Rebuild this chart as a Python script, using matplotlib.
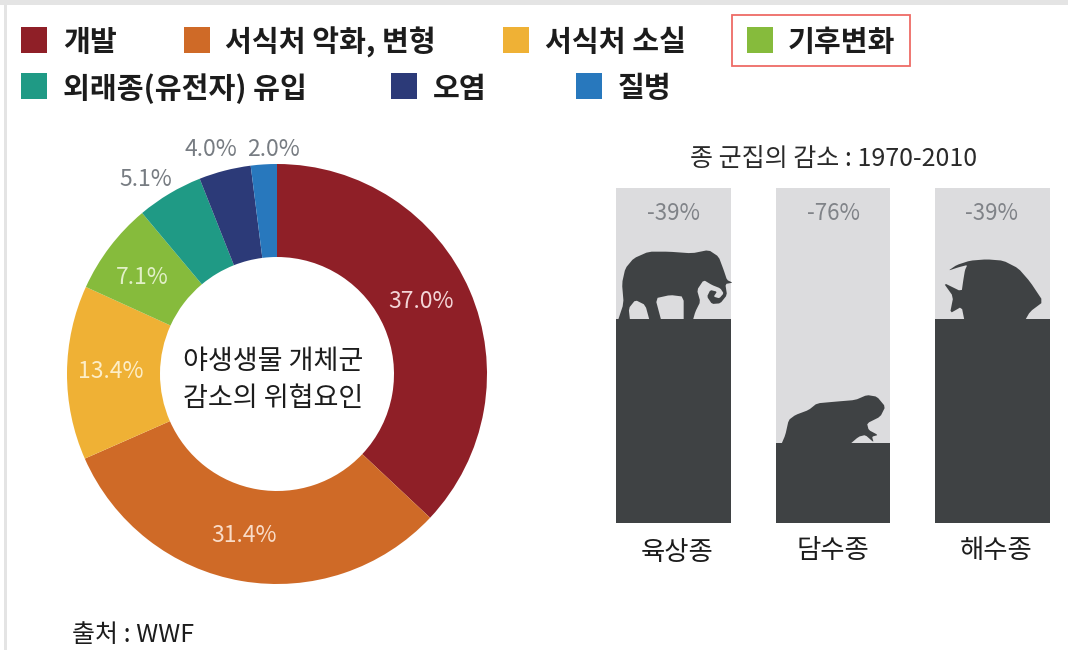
import matplotlib
matplotlib.use("Agg")
import matplotlib.pyplot as plt
from matplotlib.patches import Rectangle, Polygon

plt.rcParams['font.family'] = ['Noto Sans CJK KR', 'DejaVu Sans']

W, H = 1068, 650
threat_names = ['개발', '서식처 악화, 변형', '서식처 소실', '기후변화', '외래종(유전자) 유입', '오염', '질병']
threat_values = [37.0, 31.4, 13.4, 7.1, 5.1, 4.0, 2.0]
threat_colors = ['#8f1f27', '#cf6a27', '#efb135', '#86bb3c', '#1f9a85', '#2c3a78', '#2878bd']
species = ['육상종', '담수종', '해수종']
remaining = [61, 24, 61]
decline_labels = ['-39%', '-76%', '-39%']

fig = plt.figure(figsize=(W / 100, H / 100), dpi=100, facecolor='white')

def axes_px(x0, y0, x1, y1, **kw):
    return fig.add_axes([x0 / W, 1 - y1 / H, (x1 - x0) / W, (y1 - y0) / H], **kw)

# donut
cx, cy, r = 277, 374, 210
pie_ax = axes_px(cx - r, cy - r, cx + r, cy + r)
pie_ax.pie(threat_values, colors=threat_colors, startangle=90, counterclock=False, radius=1,
           wedgeprops=dict(width=93 / 210, linewidth=0))
pie_ax.set_xlim(-1, 1); pie_ax.set_ylim(-1, 1)
pie_ax.axis('off')

# bars
bar_ax = axes_px(616, 188, 1050, 523)
xs = range(len(species))
bar_ax.bar(xs, [100] * 3, width=0.72, color='#dcdcde', linewidth=0)
bar_ax.bar(xs, remaining, width=0.72, color='#3f4244', linewidth=0)
bar_ax.set_xlim(-0.36, 2.36); bar_ax.set_ylim(0, 100)
bar_ax.axis('off')

# overlay in pixel coordinates
ov = fig.add_axes([0, 0, 1, 1], facecolor='none')
ov.set_xlim(0, W); ov.set_ylim(H, 0); ov.axis('off')

# frame edges of the source screenshot
ov.add_patch(Rectangle((0, 0), W, 5, color='#e4e4e4', lw=0))
ov.add_patch(Rectangle((4, 0), 3, H, color='#e4e4e4', lw=0))

# legend
legend_pos = [(21, 40, 63), (184, 40, 225), (503, 40, 545), (747, 40, 788),
              (21, 86, 63), (391, 86, 433), (576, 86, 618)]
for name, color, (px, py, tx) in zip(threat_names, threat_colors, legend_pos):
    ov.add_patch(Rectangle((px, py - 13), 26, 26, color=color, lw=0))
    ov.text(tx, py + 2.5, name, fontsize=21, fontweight='black', color='#1c1c1c', ha='left', va='center')
ov.add_patch(Rectangle((732, 15), 178, 51, fill=False, edgecolor='#ee6b66', lw=1.3))

# donut labels
label_pos = [(421, 301), (244, 536), (111, 372), (142, 278), (146, 180), (211, 150), (273, 150)]
label_cols = ['#f3d5d7', '#f9dcc8', '#fdeec8', '#e2f0c8', '#777c82', '#777c82', '#777c82']
for v, (x, y), c in zip(threat_values, label_pos, label_cols):
    ov.text(x, y, f'{v:.1f}%', fontsize=16.5, color=c, ha='center', va='center')
ov.text(273, 380, '야생생물 개체군\n감소의 위협요인', fontsize=19.5, fontweight='medium', color='#1c1c1c',
        ha='center', va='center', linespacing=1.5)

# right panel text
ov.text(834, 159, '종 군집의 감소 : 1970-2010', fontsize=18, color='#2a2a2a', ha='center', va='center')
for x, t in zip([674, 833, 992], decline_labels):
    ov.text(x, 214, t, fontsize=16, color='#808388', ha='center', va='center')
for x, y, t in zip([677, 833, 996], [552, 550, 550], species):
    ov.text(x, y, t, fontsize=19, color='#1c1c1c', ha='center', va='center')
ov.text(72, 635, '출처 : WWF', fontsize=18, color='#1c1c1c', ha='left', va='center')

# silhouettes: outlines in crop coordinates, corner-cut for smoothness
def smooth(pts, n=1):
    for _ in range(n):
        out = []
        for i, (x0, y0) in enumerate(pts):
            x1, y1 = pts[(i + 1) % len(pts)]
            out += [(0.85 * x0 + 0.15 * x1, 0.85 * y0 + 0.15 * y1),
                    (0.15 * x0 + 0.85 * x1, 0.15 * y0 + 0.85 * y1)]
        pts = out
    return pts

def sil(x0, y0, pts):
    ov.add_patch(Polygon([(x0 + x / 3, y0 + y / 3) for x, y in smooth(pts)], closed=True,
                         color='#3f4244', lw=0))

elephant = [(15, 250), (35, 190), (30, 130), (40, 85), (65, 55), (110, 35), (170, 35), (240, 40), (290, 30),
            (320, 50), (335, 90), (345, 120), (362, 128), (340, 132), (345, 165), (325, 190), (300, 192),
            (285, 170), (295, 150), (315, 155), (305, 170), (322, 175), (335, 160), (325, 145), (300, 135),
            (275, 120), (255, 150), (265, 185), (250, 215), (240, 250), (215, 250), (215, 170), (175, 165),
            (130, 175), (150, 250), (115, 250), (100, 195), (70, 180), (50, 205), (55, 250)]
sil(612, 240, elephant)
fish = [(55, 62), (80, 45), (120, 32), (170, 28), (220, 32), (265, 55), (300, 95), (340, 155), (300, 185),
        (280, 220), (105, 220), (95, 170), (60, 190), (70, 140), (40, 98), (95, 125), (100, 90), (105, 60),
        (112, 45), (85, 52)]
sil(930, 250, fish)
frog = [(25, 185), (40, 150), (50, 105), (70, 90), (110, 75), (135, 55), (190, 50), (250, 45), (285, 30),
        (315, 35), (340, 65), (325, 95), (285, 115), (290, 135), (318, 150), (300, 155), (305, 172),
        (280, 150), (260, 155), (225, 185)]
sil(772, 385, frog)

fig.savefig('out.png', dpi=100, facecolor='white')
